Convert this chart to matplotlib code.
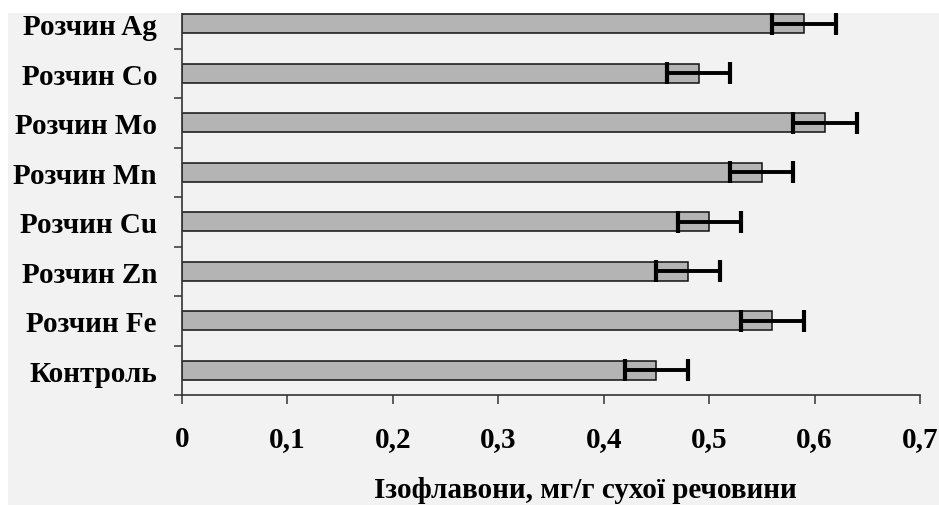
import matplotlib
matplotlib.use("Agg")
import matplotlib.pyplot as plt
from matplotlib.patches import Rectangle
from matplotlib.font_manager import FontProperties
import numpy as np

categories = ["Контроль", "Розчин Fe", "Розчин Zn", "Розчин Cu",
              "Розчин Mn", "Розчин Mo", "Розчин Co", "Розчин Ag"]
values = [0.45, 0.56, 0.48, 0.50, 0.55, 0.61, 0.49, 0.59]
errors = [0.03, 0.03, 0.03, 0.03, 0.03, 0.03, 0.03, 0.03]
xticks = [0, 0.1, 0.2, 0.3, 0.4, 0.5, 0.6, 0.7]
xticklabels = ["0", "0,1", "0,2", "0,3", "0,4", "0,5", "0,6", "0,7"]
xlabel = "Ізофлавони, мг/г сухої речовини"

W, H = 939, 506
bg = "#f2f2f2"
fig = plt.figure(figsize=(W / 100, H / 100), dpi=100, facecolor=bg)
ax = fig.add_axes([182 / W, (H - 396) / H, (920 - 182) / W, 396 / H])
ax.set_facecolor(bg)

y = np.arange(len(categories))
ax.barh(y, values, height=0.39, color="#b4b4b4", edgecolor="#111111", linewidth=1.1, zorder=2)
ax.errorbar(values, y, xerr=errors, fmt="none", ecolor="black", elinewidth=2.8,
            capsize=8, capthick=3, zorder=3)

ax.set_xlim(0, 0.7)
ax.set_ylim(-0.5, len(categories) - 0.5)
ax.set_xticks(xticks)
ax.set_xticklabels(xticklabels)
ax.set_yticks(y)
ax.set_yticklabels(categories)
ax.set_yticks(np.arange(-0.5, len(categories)), minor=True)

font = dict(family="Liberation Serif", weight="bold")
for lab in ax.get_yticklabels():
    lab.set_fontproperties(FontProperties(size=21, **font))
for lab in ax.get_xticklabels():
    lab.set_fontproperties(FontProperties(size=21, **font))

ax.tick_params(axis="y", which="major", length=0, pad=18)
ax.tick_params(axis="y", which="minor", length=6, width=1.1, color="#333333", direction="out")
ax.tick_params(axis="x", which="major", length=6.5, width=1.1, color="#333333",
               direction="out", pad=15)

for s in ["top", "right"]:
    ax.spines[s].set_visible(False)
for s in ["left", "bottom"]:
    ax.spines[s].set_linewidth(1.2)
    ax.spines[s].set_color("#333333")

fig.text(585 / W, (H - 491) / H, xlabel, ha="center", va="center",
         fontsize=21, **font)

# white margins of the scanned figure
fig.patches.append(Rectangle((0, (H - 14) / H), 1, 14 / H, transform=fig.transFigure,
                             facecolor="white", edgecolor="none", zorder=10))
fig.patches.append(Rectangle((0, 0), 8 / W, 1, transform=fig.transFigure,
                             facecolor="white", edgecolor="none", zorder=10))

fig.savefig("out.png", dpi=100, facecolor=bg)
